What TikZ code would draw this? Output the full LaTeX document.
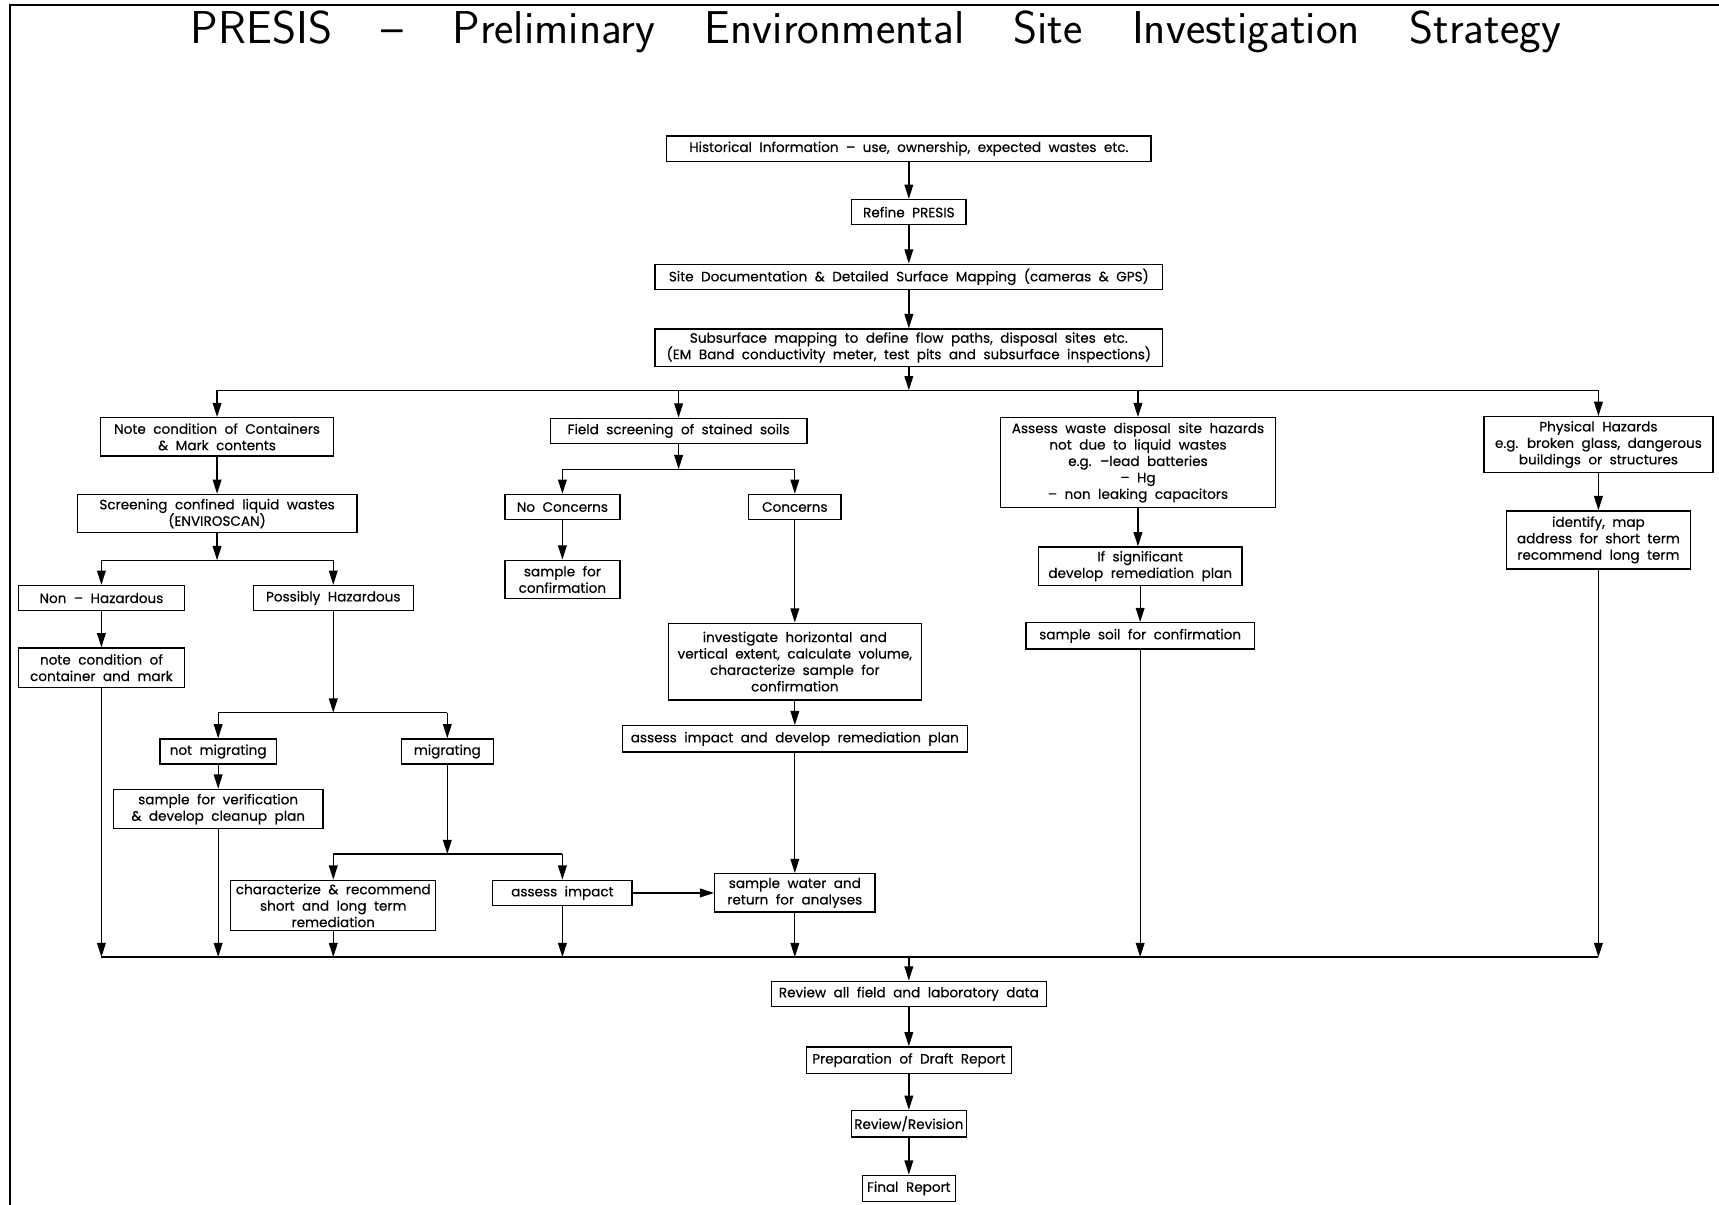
\documentclass[tikz,border=0pt]{standalone}
\usepackage{fontspec}
\newfontfamily\boxfont[FakeBold=0.35]{Poppins}
\usetikzlibrary{arrows.meta}
\newcommand\dn[2]{\draw[arr] (#1.south) -- (#1.south |- #2.north);}
\newcommand\bxfont{\boxfont\fontsize{6.2}{7.5}\selectfont\spaceskip=0.55em\relax}
\newcommand\ttlfont{\sffamily\fontsize{21}{25}\selectfont\spaceskip=1.07em\relax}
\begin{document}
\begin{tikzpicture}[x=0.5pt,y=-0.5pt,
  box/.style 2 args={draw, line width=0.6pt, minimum width=#1*0.5pt, minimum height=#2*0.5pt,
    inner sep=0pt, align=center, font=\bxfont},
  arr/.style={line width=0.6pt, -{Triangle[length=6.5pt,width=4pt]}},
  ln/.style={line width=0.6pt}]
\useasboundingbox (0,0) rectangle (1568,1099);
% frame
\draw[line width=1.2pt] (9,1099) -- (9,4.5) -- (1568,4.5);
% title
\node[font=\ttlfont] (title) at (799,29)
  {PRESIS – Preliminary Environmental Site Investigation Strategy};
% main column
\node[box={442}{23}] (hist) at (829,135.5) {Historical Information – use, ownership, expected wastes etc.};
\node[box={104}{23}] (refine) at (829,193.5) {Refine PRESIS};
\node[box={463}{23}] (site) at (829,252.5) {Site Documentation \& Detailed Surface Mapping (cameras \& GPS)};
\node[box={463}{34}] (sub) at (829,317) {Subsurface mapping to define flow paths, disposal sites etc.\\(EM Band conductivity meter, test pits and subsurface inspections)};
% level 1
\node[box={213}{35}] (note) at (198,398.5) {Note condition of Containers\\\& Mark contents};
\node[box={234}{23}] (field) at (619,393) {Field screening of stained soils};
\node[box={251}{82}] (assw) at (1038,422) {Assess waste disposal site hazards\\not due to liquid wastes\\e.g. –lead batteries\\– Hg\\– non leaking capacitors};
\node[box={209}{51}] (phys) at (1458,405.5) {Physical Hazards\\e.g. broken glass, dangerous\\buildings or structures};
% left branch
\node[box={255}{35}] (screen) at (198,468.5) {Screening confined liquid wastes\\(ENVIROSCAN)};
\node[box={151}{23}] (nonhaz) at (92.5,545.5) {Non – Hazardous};
\node[box={146}{23}] (posshaz) at (304,545.5) {Possibly Hazardous};
\node[box={151}{36}] (notecont) at (92.5,609) {note condition of\\container and mark};
\node[box={106}{23}] (notmig) at (199,685.5) {not migrating};
\node[box={84}{23}] (mig) at (408,685.5) {migrating};
\node[box={191}{36}] (sampver) at (199,738) {sample for verification\\\& develop cleanup plan};
\node[box={187}{46}] (charac) at (304,826) {characterize \& recommend\\short and long term\\remediation};
\node[box={127}{23}] (assimp) at (513,814.5) {assess impact};
% middle branch
\node[box={105}{23}] (nocon) at (513,462.5) {No Concerns};
\node[box={84}{23}] (con) at (725,462.5) {Concerns};
\node[box={105}{35}] (sampconf) at (513,528.5) {sample for\\confirmation};
\node[box={231}{70}] (invest) at (725,603.5) {investigate horizontal and\\vertical extent, calculate volume,\\characterize sample for\\confirmation};
\node[box={315}{24}] (assdev) at (725,674) {assess impact and develop remediation plan};
\node[box={146}{35}] (sampw) at (725,814.5) {sample water and\\return for analyses};
% right branches
\node[box={186}{35}] (ifsig) at (1040,516.5) {If significant\\develop remediation plan};
\node[box={208}{24}] (sampsoil) at (1040,580) {sample soil for confirmation};
\node[box={168}{53}] (ident) at (1458,492.5) {identify, map\\address for short term\\recommend long term};
% final column
\node[box={251}{23}] (review) at (829,906.5) {Review all field and laboratory data};
\node[box={187}{24}] (prep) at (829,967) {Preparation of Draft Report};
\node[box={105}{24}] (revrev) at (829,1025) {Review/Revision};
\node[box={85}{24}] (final) at (829,1084) {Final Report};
% bus coordinates
\coordinate (b1) at (829,356);
\coordinate (b2) at (198,511);
\coordinate (b2f) at (619,428);
\coordinate (b3) at (304,650);
\coordinate (b4) at (408,779);
\coordinate (b5) at (829,873);
% top column
\dn{hist}{refine}
\dn{refine}{site}
\dn{site}{sub}
\draw[arr] (sub.south) -- (b1);
\draw[ln] (note.north |- b1) -- (phys.north |- b1);
\foreach \n in {note,field,assw,phys} \draw[arr] (\n.north |- b1) -- (\n.north);
% left branch
\dn{note}{screen}
\draw[arr] (screen.south) -- (b2);
\draw[ln] (nonhaz.north |- b2) -- (posshaz.north |- b2);
\foreach \n in {nonhaz,posshaz} \draw[arr] (\n.north |- b2) -- (\n.north);
\dn{nonhaz}{notecont}
\draw[arr] (posshaz.south) -- (b3);
\draw[ln] (notmig.north |- b3) -- (mig.north |- b3);
\foreach \n in {notmig,mig} \draw[arr] (\n.north |- b3) -- (\n.north);
\dn{notmig}{sampver}
\draw[arr] (mig.south) -- (b4);
\draw[ln] (charac.north |- b4) -- (assimp.north |- b4);
\foreach \n in {charac,assimp} \draw[arr] (\n.north |- b4) -- (\n.north);
\draw[arr] (assimp.east) -- (sampw.west |- assimp.east);
% middle branch
\draw[arr] (field.south) -- (b2f);
\draw[ln] (nocon.north |- b2f) -- (con.north |- b2f);
\foreach \n in {nocon,con} \draw[arr] (\n.north |- b2f) -- (\n.north);
\dn{nocon}{sampconf}
\dn{con}{invest}
\dn{invest}{assdev}
\dn{assdev}{sampw}
% right branches
\dn{assw}{ifsig}
\dn{ifsig}{sampsoil}
\dn{phys}{ident}
% bottom bus
\draw[ln] (notecont.south |- b5) -- (ident.south |- b5);
\foreach \n in {notecont,sampver,charac,assimp,sampw,sampsoil,ident} \draw[arr] (\n.south) -- (\n.south |- b5);
\draw[arr] (b5) -- (review.north);
\dn{review}{prep}
\dn{prep}{revrev}
\dn{revrev}{final}
\end{tikzpicture}
\end{document}
